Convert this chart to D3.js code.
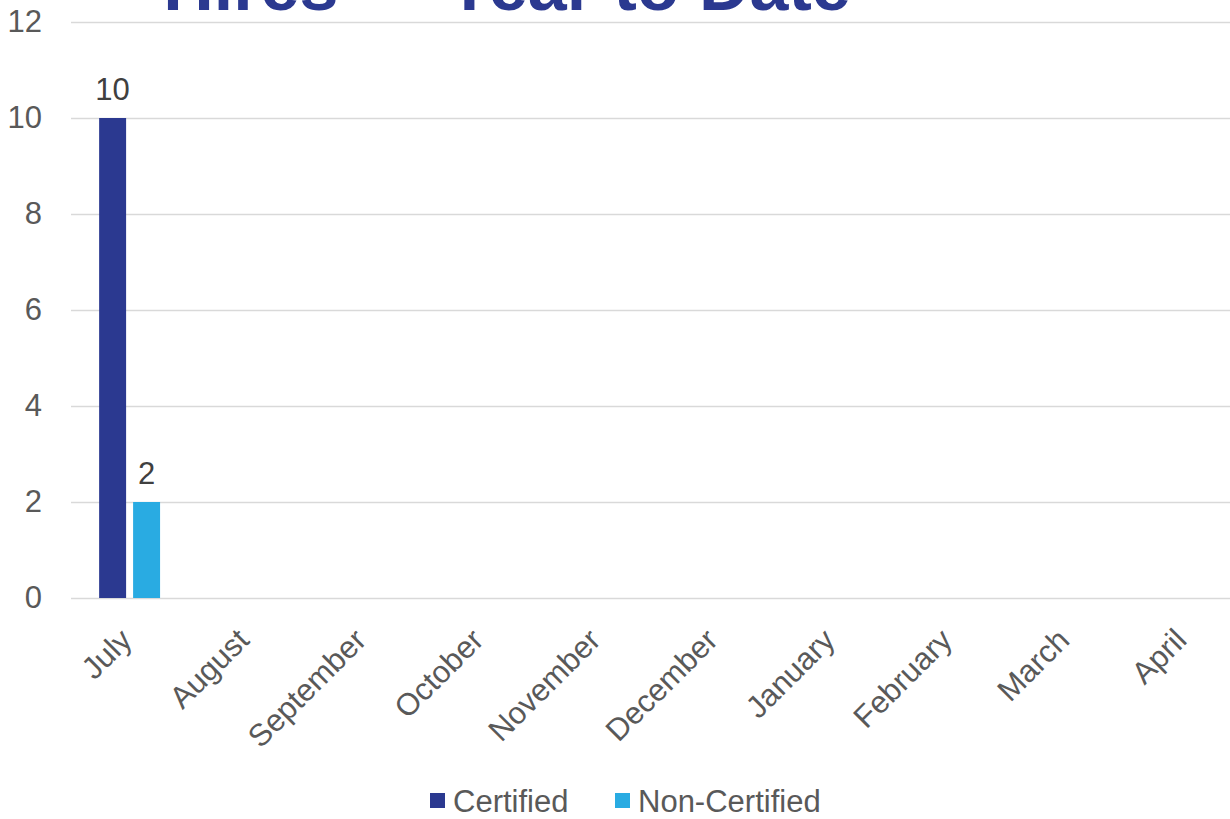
<!DOCTYPE html>
<html>
<head>
<meta charset="utf-8">
<script src="https://cdn.jsdelivr.net/npm/d3@7.9.0/dist/d3.min.js"></script>
<style>
  body { margin: 0; background: #fff; }
  svg { display: block; font-family: "Liberation Sans", Arial, sans-serif; }
</style>
</head>
<body>
<svg id="chart" width="1230" height="819"></svg>
<script>
// Chart data
const months = ['July', 'August', 'September', 'October', 'November', 'December', 'January', 'February', 'March', 'April'];
const seriesNames = ['Certified', 'Non-Certified'];
const certified = [10, null, null, null, null, null, null, null, null, null];
const nonCertified = [2, null, null, null, null, null, null, null, null, null];
const yTicks = [0, 2, 4, 6, 8, 10, 12];
const titleText = 'Hires \u2014 Year to Date';

const colors = ['#2B3990', '#29ABE2'];
const fontSize = 31;

const svg = d3.select('#chart');
const margin = { top: 22, left: 71 };
// plot area runs a little past the right edge of the page, as in the original
const width = 1172;
const height = 576;

const g = svg.append('g').attr('transform', `translate(${margin.left},${margin.top})`);

const x = d3.scaleBand().domain(months).range([0, width]).paddingInner(0.48).paddingOuter(0.24);
const xSub = d3.scaleBand().domain(seriesNames).range([0, x.bandwidth()]).paddingInner(0.206);
const y = d3.scaleLinear().domain([0, 12]).range([height, 0]);

// title (cut off at top, as in the original)
svg.append('text')
  .attr('x', 507)
  .attr('y', 10)
  .attr('text-anchor', 'middle')
  .attr('font-size', 70)
  .attr('font-weight', 'bold')
  .attr('fill', '#2B3990')
  .text(titleText);

// gridlines
g.append('g')
  .selectAll('line')
  .data(yTicks)
  .join('line')
  .attr('x1', 0)
  .attr('x2', width)
  .attr('y1', d => Math.round(y(d)) + 0.5)
  .attr('y2', d => Math.round(y(d)) + 0.5)
  .attr('stroke', '#d9d9d9')
  .attr('stroke-width', 1.5);

// y axis labels
const yAxis = g.append('g')
  .call(d3.axisLeft(y).tickValues(yTicks).tickSize(0).tickPadding(29));
yAxis.select('.domain').remove();
yAxis.selectAll('text')
  .attr('font-size', fontSize)
  .attr('fill', '#595959')
  .attr('font-family', '"Liberation Sans", Arial, sans-serif');

// x axis labels
const xAxis = g.append('g')
  .attr('transform', `translate(0,${height})`)
  .call(d3.axisBottom(x).tickSize(0).tickPadding(0));
xAxis.select('.domain').remove();
xAxis.selectAll('text')
  .attr('font-size', fontSize)
  .attr('fill', '#595959')
  .attr('font-family', '"Liberation Sans", Arial, sans-serif')
  .attr('text-anchor', 'end')
  .attr('dy', null)
  .attr('y', 0)
  .attr('transform', 'translate(4,44) rotate(-45)');

// bars
const data = [certified, nonCertified];
data.forEach((vals, si) => {
  const bars = vals.map((v, i) => ({ month: months[i], value: v })).filter(d => d.value != null);
  g.append('g')
    .selectAll('rect')
    .data(bars)
    .join('rect')
    .attr('x', d => x(d.month) + xSub(seriesNames[si]))
    .attr('y', d => y(d.value))
    .attr('width', xSub.bandwidth())
    .attr('height', d => y(0) - y(d.value))
    .attr('fill', colors[si]);

  g.append('g')
    .selectAll('text')
    .data(bars)
    .join('text')
    .attr('x', d => x(d.month) + xSub(seriesNames[si]) + xSub.bandwidth() / 2)
    .attr('y', d => y(d.value) - 18)
    .attr('text-anchor', 'middle')
    .attr('font-size', fontSize)
    .attr('fill', '#404040')
    .text(d => d.value);
});

// legend
const legend = svg.append('g').attr('transform', 'translate(430,793)');
const legendX = [0, 185];
seriesNames.forEach((name, i) => {
  const item = legend.append('g').attr('transform', `translate(${legendX[i]},0)`);
  item.append('rect').attr('width', 15).attr('height', 15).attr('fill', colors[i]);
  item.append('text')
    .attr('x', 23)
    .attr('y', 19)
    .attr('font-size', fontSize)
    .attr('fill', '#595959')
    .text(name);
});
</script>
</body>
</html>
